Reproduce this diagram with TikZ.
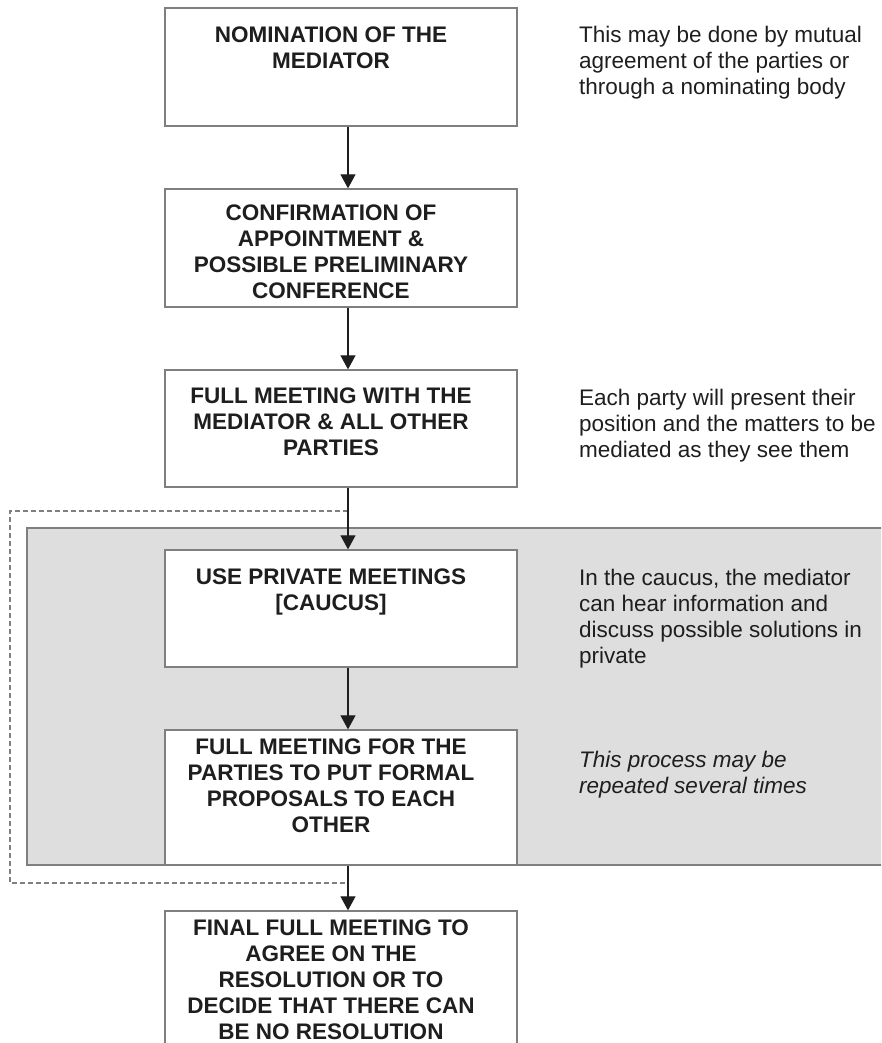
\documentclass[tikz,border=0pt]{standalone}
\usepackage{fontspec}
\setmainfont{Liberation Sans}
\usepackage{xcolor}
\usepackage{tikz}
\usetikzlibrary{positioning}
\usetikzlibrary{arrows.meta}
\definecolor{boxline}{HTML}{7F7F7F}
\definecolor{caucus}{HTML}{DEDEDE}
\definecolor{ink}{HTML}{1E1E1E}
\tikzset{
  stepbox/.style = {rectangle, draw=boxline, fill=white, line width=1.3pt,
    minimum width=352pt, inner sep=0pt},% one step of the process
  steptext/.style = {align=center, inner sep=0pt, text=ink, anchor=north,
    font=\bfseries\fontsize{22.5pt}{26pt}\selectfont},% text in a step
  notetext/.style = {align=left, inner sep=0pt, text=ink, anchor=north west,
    font=\fontsize{22.5pt}{26pt}\selectfont},% remark on the right
  flow/.style = {-{Triangle[length=14pt,width=15pt]}, line width=1.1pt, ink},
  loopline/.style = {draw=boxline, line width=1.2pt, dash pattern=on 5pt off 3pt}
}
\begin{document}
\begin{tikzpicture}[x=1pt,y=-1pt]
\clip (0,0) rectangle (881,1043);
% caucus part
\draw[fill=caucus, draw=boxline, line width=1.3pt] (27,528) rectangle (895,865);
\coordinate (loopin) at (348,511);
\coordinate (loopout) at (348,883);
\draw[loopline] (loopin) -- ++(-338,0) |- (loopout);

\node[stepbox, minimum height=118pt] (nominate) at (341,67) {};
\node[stepbox, minimum height=118pt] (confirm) at (341,248) {};
\node[stepbox, minimum height=117pt] (fullmeet) at (341,428.5) {};
\node[stepbox, minimum height=117pt] (caucusbox) at (341,608.5) {};
\node[stepbox, minimum height=135pt] (proposals) at (341,797.5) {};
\node[stepbox, minimum height=150pt] (final) at (341,986) {};

\node[steptext, below=19pt of nominate.north, xshift=-10pt] (nominate-t)
  {NOMINATION OF THE\\MEDIATOR};
\node[steptext, below=16pt of confirm.north, xshift=-10pt] (confirm-t)
  {CONFIRMATION OF\\APPOINTMENT \&\\POSSIBLE PRELIMINARY\\CONFERENCE};
\node[steptext, below=18pt of fullmeet.north, xshift=-10pt] (fullmeet-t)
  {FULL MEETING WITH THE\\MEDIATOR \& ALL OTHER\\PARTIES};
\node[steptext, below=19pt of caucusbox.north, xshift=-10pt] (caucusbox-t)
  {USE PRIVATE MEETINGS\\{[CAUCUS]}};
\node[steptext, below=9pt of proposals.north, xshift=-10pt] (proposals-t)
  {FULL MEETING FOR THE\\PARTIES TO PUT FORMAL\\PROPOSALS TO EACH\\OTHER};
\node[steptext, below=9pt of final.north, xshift=-10pt] (final-t)
  {FINAL FULL MEETING TO\\AGREE ON THE\\RESOLUTION OR TO\\DECIDE THAT THERE CAN\\BE NO RESOLUTION};

% remarks
\node[notetext] (note-nominate) at (579,26)
  {This may be done by mutual\\agreement of the parties or\\through a nominating body};
\node[notetext] (note-fullmeet) at (579,389)
  {Each party will present their\\position and the matters to be\\mediated as they see them};
\node[notetext] (note-caucus) at (579,569)
  {In the caucus, the mediator\\can hear information and\\discuss possible solutions in\\private};
\node[notetext, font=\itshape\fontsize{22.5pt}{26pt}\selectfont] (note-repeat) at (579,751)
  {This process may be\\repeated several times};

\foreach \a/\b in {nominate/confirm, confirm/fullmeet, fullmeet/caucusbox,
  caucusbox/proposals, proposals/final}
  \draw[flow] ([xshift=7pt]\a.south) -- ([xshift=7pt]\b.north);
\end{tikzpicture}
\end{document}
